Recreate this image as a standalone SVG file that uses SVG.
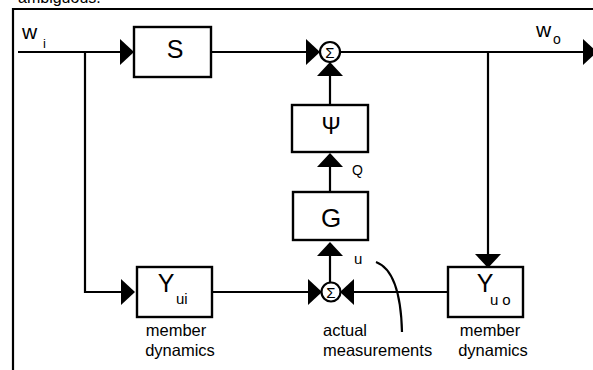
<svg xmlns="http://www.w3.org/2000/svg" xmlns:xlink="http://www.w3.org/1999/xlink" width="593" height="370" viewBox="0 0 593 370">
  <style>
    .ln { fill: none; stroke: #000; stroke-width: 2.2; }
    .box { fill: #fff; stroke: #000; stroke-width: 2.4; }
    .sum { fill: #fff; stroke: #000; stroke-width: 2.2; }
    .t { font-family: "Liberation Sans", Arial, sans-serif; fill: #000; }
    .lbl { font-family: "Liberation Sans", Arial, sans-serif; font-size: 16.5px; fill: #000; }
    .ah { fill: #000; }
  </style>
  <defs>
    <!-- filled arrowhead, tip at origin, pointing in +x -->
    <path id="ah" d="M0,0 L-14,-13 L-14,13 Z"/>
  </defs>

  <rect width="593" height="370" fill="#fff"/>

  <!-- caption line running off the top edge -->
  <text class="t" x="18" y="3" font-size="16">ambiguous.</text>

  <!-- outer frame -->
  <path class="ln" d="M13,370 L13,9 L593,9"/>

  <g id="connectors">
    <!-- main forward path -->
    <path class="ln" d="M18,52 L120,52"/>
    <path class="ln" d="M211,52 L306,52"/>
    <path class="ln" d="M340,52 L584,52"/>
    <!-- branch down to Yu1 -->
    <path class="ln" d="M85,52 L85,292 L121,292"/>
    <!-- Yu1 to lower summing junction -->
    <path class="ln" d="M212,292 L308,292"/>
    <!-- Yu0 to lower summing junction -->
    <path class="ln" d="M354,292 L448,292"/>
    <!-- output tap down to Yu0 -->
    <path class="ln" d="M488,52 L488,256"/>
    <!-- lower junction up to G -->
    <path class="ln" d="M330,283 L330,254"/>
    <!-- G to Psi -->
    <path class="ln" d="M330,192 L330,165"/>
    <!-- Psi to upper junction -->
    <path class="ln" d="M330,105 L330,74"/>
    <!-- leader from u to actual measurements -->
    <path class="ln" d="M376,262 C392,268 401,292 402,332" stroke-width="1.8"/>

    <!-- arrowheads -->
    <use href="#ah" xlink:href="#ah" class="ah" transform="translate(134,52)"/>
    <use href="#ah" xlink:href="#ah" class="ah" transform="translate(320,52)"/>
    <use href="#ah" xlink:href="#ah" class="ah" transform="translate(597,52)"/>
    <use href="#ah" xlink:href="#ah" class="ah" transform="translate(330,62) rotate(-90)"/>
    <use href="#ah" xlink:href="#ah" class="ah" transform="translate(330,153) rotate(-90)"/>
    <use href="#ah" xlink:href="#ah" class="ah" transform="translate(330,242) rotate(-90)"/>
    <use href="#ah" xlink:href="#ah" class="ah" transform="translate(135,292)"/>
    <use href="#ah" xlink:href="#ah" class="ah" transform="translate(322,292)"/>
    <use href="#ah" xlink:href="#ah" class="ah" transform="translate(340,292) rotate(180)"/>
    <use href="#ah" xlink:href="#ah" class="ah" transform="translate(488,268) rotate(90)"/>
  </g>

  <g id="w_i">
    <text class="t" x="22" y="39" font-size="21">w</text>
    <text class="t" x="43" y="48" font-size="13">i</text>
  </g>

  <g id="w_o">
    <text class="t" x="536" y="37" font-size="21">w</text>
    <text class="t" x="553" y="44" font-size="14">o</text>
  </g>

  <g id="S">
    <rect class="box" x="134" y="27" width="77" height="50"/>
    <text class="t" x="175" y="58" font-size="25" text-anchor="middle">S</text>
  </g>

  <g id="sum_top">
    <circle class="sum" cx="330" cy="52" r="10"/>
    <text class="t" x="330" y="57.5" font-size="15" text-anchor="middle">Σ</text>
  </g>

  <g id="Psi">
    <rect class="box" x="292" y="105" width="76" height="47"/>
    <text class="t" x="331" y="134" font-size="23" text-anchor="middle">Ψ</text>
  </g>

  <g id="Q">
    <text class="t" x="352" y="175" font-size="14">Q</text>
  </g>

  <g id="G">
    <rect class="box" x="293" y="192" width="75" height="48"/>
    <text class="t" x="331" y="227" font-size="26" text-anchor="middle">G</text>
  </g>

  <g id="u">
    <text class="t" x="354" y="264" font-size="15">u</text>
  </g>

  <g id="sum_bottom">
    <circle class="sum" cx="331" cy="292" r="9.5"/>
    <text class="t" x="331" y="297.5" font-size="15" text-anchor="middle">Σ</text>
  </g>

  <g id="Yu1">
    <rect class="box" x="137" y="267" width="75" height="50"/>
    <text class="t" x="166" y="292" font-size="25" text-anchor="middle">Y</text>
    <text class="t" x="176" y="304" font-size="15">ui</text>
    <text class="lbl" x="176" y="336" text-anchor="middle">member</text>
    <text class="lbl" x="180" y="356" text-anchor="middle">dynamics</text>
  </g>

  <g id="actual_measurements">
    <text class="lbl" x="323" y="336">actual</text>
    <text class="lbl" x="323" y="356">measurements</text>
  </g>

  <g id="Yu0">
    <rect class="box" x="448" y="267" width="75" height="50"/>
    <text class="t" x="485" y="292" font-size="25" text-anchor="middle">Y</text>
    <text class="t" x="490" y="305" font-size="15" letter-spacing="4">uo</text>
    <text class="lbl" x="490" y="336" text-anchor="middle">member</text>
    <text class="lbl" x="493" y="356" text-anchor="middle">dynamics</text>
  </g>
</svg>
